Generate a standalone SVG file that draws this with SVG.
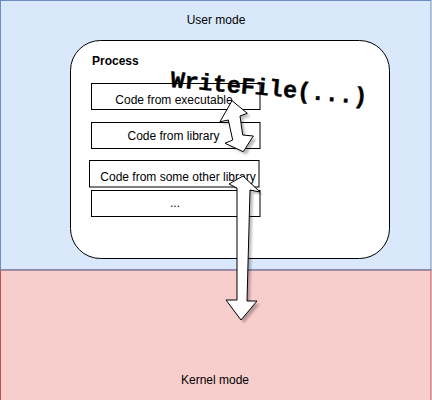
<svg xmlns="http://www.w3.org/2000/svg" width="432" height="400" viewBox="0 0 432 400">
<style>
.lbl{font-family:"Liberation Sans",Arial,sans-serif;font-size:12px;fill:#000;text-anchor:middle}
.box{fill:#fff;stroke:#000;stroke-width:1}
.arrow{fill:#fff;stroke:#000;stroke-width:1;stroke-linejoin:miter}
.shadow{fill:#000;opacity:0.25}
</style>
<defs>
<filter id="blur" x="-20%" y="-20%" width="140%" height="140%"><feGaussianBlur stdDeviation="1"/></filter>
</defs>
<g id="user-mode">
<rect x="0.5" y="0.5" width="430.5" height="269.5" fill="#dae8fc" stroke="#6c8ebf"/>
<text class="lbl" x="216" y="24">User mode</text>
</g>
<g id="kernel-mode">
<rect x="0.5" y="270" width="430.5" height="131" fill="#f8cecc" stroke="#b85450"/>
<line x1="0.5" y1="270" x2="431" y2="270" stroke="#6c8ebf"/>
<text class="lbl" x="215" y="384">Kernel mode</text>
</g>
<g id="process">
<rect x="70.5" y="40.5" width="319" height="218" rx="30" ry="30" fill="#fff" stroke="#000"/>
<text x="92" y="65" style="font-family:'Liberation Sans',Arial,sans-serif;font-size:12px;font-weight:bold">Process</text>
</g>
<g id="code-exe">
<rect class="box" x="91.5" y="83.5" width="168.5" height="26"/>
<text class="lbl" x="174" y="104">Code from executable</text>
</g>
<g id="code-lib">
<rect class="box" x="91.5" y="122.5" width="168.5" height="26"/>
<text class="lbl" x="173.5" y="140">Code from library</text>
</g>
<g id="code-other">
<rect class="box" x="89.5" y="160.5" width="169.5" height="26.5"/>
<text class="lbl" x="178" y="181">Code from some other library</text>
</g>
<g id="code-more">
<rect class="box" x="91.5" y="190.5" width="168.5" height="26"/>
<text class="lbl" x="175" y="207">...</text>
</g>
<g id="connectors">
<polygon class="shadow" filter="url(#blur)" transform="translate(3,3)" points="232,100.7 247.3,113.3 240,116 242.7,135 253.3,136 243.3,151.7 225,143.3 232.7,140 228.3,120 220,121.7"/>
<polygon class="arrow" points="232,100.7 247.3,113.3 240,116 242.7,135 253.3,136 243.3,151.7 225,143.3 232.7,140 228.3,120 220,121.7"/>
<polygon class="shadow" filter="url(#blur)" transform="translate(3,3)" points="243,176 260,192 250,190 247,301 257,301 241,320 226,300 237,300 237,188 229,184"/>
<polygon class="arrow" points="243,176 260,192 250,190 247,301 257,301 241,320 226,300 237,300 237,188 229,184"/>
</g>
<g id="writefile">
<text x="170" y="87" transform="rotate(5 170 87)" style="font-family:'Liberation Mono','Courier New',monospace;font-size:23.5px;font-weight:bold;stroke:#000;stroke-width:0.4">WriteFile(...)</text>
</g>
</svg>
